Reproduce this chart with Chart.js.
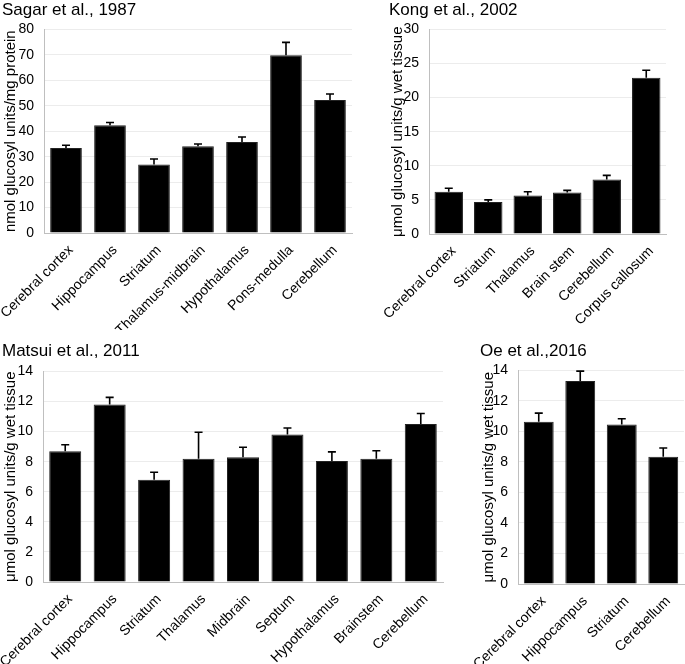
<!DOCTYPE html>
<html>
<head>
<meta charset="utf-8">
<script src="https://cdn.jsdelivr.net/npm/chart.js@4.4.1/dist/chart.umd.min.js"></script>
<style>
  body { margin: 0; background: #fff; width: 685px; height: 664px; position: relative; overflow: hidden; }
  .panel { position: absolute; }
</style>
</head>
<body>
<div class="panel" style="left:0px;top:0px;width:360px;height:330px"><canvas id="sagar"></canvas></div>
<div class="panel" style="left:381px;top:0px;width:304px;height:330px"><canvas id="kong"></canvas></div>
<div class="panel" style="left:0px;top:330px;width:470px;height:334px"><canvas id="matsui"></canvas></div>
<div class="panel" style="left:472px;top:330px;width:213px;height:334px"><canvas id="oe"></canvas></div>
<script>
// Sagar et al., 1987
const sagarLabels = ['Cerebral cortex', 'Hippocampus', 'Striatum', 'Thalamus-midbrain', 'Hypothalamus', 'Pons-medulla', 'Cerebellum'];
const sagarValues = [33.4, 42.3, 26.9, 34.1, 35.8, 69.8, 52.3];
const sagarErrors = [1.1, 1.1, 2.2, 0.9, 1.9, 5.1, 2.3];
const sagarTicks = [0, 10, 20, 30, 40, 50, 60, 70, 80];

// Kong et al., 2002
const kongLabels = ['Cerebral cortex', 'Striatum', 'Thalamus', 'Brain stem', 'Cerebellum', 'Corpus callosum'];
const kongValues = [6.2, 4.7, 5.65, 6.1, 8.0, 22.9];
const kongErrors = [0.5, 0.3, 0.55, 0.3, 0.6, 1.1];
const kongTicks = [0, 5, 10, 15, 20, 25, 30];

// Matsui et al., 2011
const matsuiLabels = ['Cerebral cortex', 'Hippocampus', 'Striatum', 'Thalamus', 'Midbrain', 'Septum', 'Hypothalamus', 'Brainstem', 'Cerebellum'];
const matsuiValues = [8.7, 11.8, 6.8, 8.2, 8.3, 9.8, 8.05, 8.2, 10.5];
const matsuiErrors = [0.42, 0.47, 0.5, 1.75, 0.66, 0.44, 0.6, 0.53, 0.7];
const matsuiTicks = [0, 2, 4, 6, 8, 10, 12, 14];

// Oe et al., 2016
const oeLabels = ['Cerebral cortex', 'Hippocampus', 'Striatum', 'Cerebellum'];
const oeValues = [10.63, 13.3, 10.46, 8.34];
const oeErrors = [0.57, 0.65, 0.37, 0.57];
const oeTicks = [0, 2, 4, 6, 8, 10, 12, 14];

const FONT = "'Liberation Sans', Arial, sans-serif";

// upward error bars with a cap
const errorBars = {
  id: 'errorBars',
  afterDatasetsDraw(chart, args, opts) {
    const errs = opts.errors || [];
    const meta = chart.getDatasetMeta(0);
    const y = chart.scales.y;
    const ctx = chart.ctx;
    ctx.save();
    ctx.strokeStyle = '#000';
    ctx.lineWidth = 1.6;
    meta.data.forEach((bar, i) => {
      const v = chart.data.datasets[0].data[i];
      const yb = y.getPixelForValue(v);
      const yt = y.getPixelForValue(v + errs[i]);
      ctx.beginPath();
      ctx.moveTo(bar.x, yb);
      ctx.lineTo(bar.x, yt);
      ctx.moveTo(bar.x - 4, yt);
      ctx.lineTo(bar.x + 4, yt);
      ctx.stroke();
    });
    ctx.restore();
  }
};

function renderPanel(id, title, labels, values, errors, ticks, yTitle, lay) {
  const ctx = document.getElementById(id);
  return new Chart(ctx, {
    type: 'bar',
    data: {
      labels: labels,
      datasets: [{
        data: values,
        backgroundColor: '#000',
        borderColor: '#222',
        borderWidth: 1,
        barPercentage: 0.72,
        categoryPercentage: 1
      }]
    },
    options: {
      responsive: true,
      maintainAspectRatio: false,
      animation: false,
      layout: { padding: { left: lay.padLeft, right: lay.padRight, top: 0, bottom: 0 } },
      plugins: {
        legend: { display: false },
        tooltip: { enabled: false },
        title: {
          display: true,
          text: title,
          align: 'start',
          color: '#000',
          font: { family: FONT, size: 17, weight: 'normal', lineHeight: 1.2 },
          padding: { top: lay.titleTop, bottom: lay.titleBottom }
        },
        errorBars: { errors: errors }
      },
      scales: {
        x: {
          grid: { display: false },
          border: { display: true, color: '#bfbfbf', width: 1 },
          ticks: {
            color: '#000',
            font: { family: FONT, size: 14 },
            minRotation: 45,
            maxRotation: 45,
            autoSkip: false,
            labelOffset: 5,
            padding: 1
          },
          afterFit(scale) {
            scale.height = lay.xHeight;
            scale.paddingLeft = 0;
            scale.paddingRight = 0;
          }
        },
        y: {
          min: ticks[0],
          max: ticks[ticks.length - 1],
          afterBuildTicks(scale) { scale.ticks = ticks.map(v => ({ value: v })); },
          grid: { color: '#ececec', lineWidth: 1, drawTicks: false },
          border: { display: true, color: '#bfbfbf', width: 1 },
          ticks: { color: '#000', font: { family: FONT, size: 14 }, padding: 10 },
          title: {
            display: true,
            text: yTitle,
            color: '#000',
            font: { family: FONT, size: 15 },
            padding: { top: 0, bottom: 0 }
          },
          afterFit(scale) {
            scale.width = lay.yWidth;
            scale.paddingTop = 0;
            scale.paddingBottom = 0;
          }
        }
      }
    },
    plugins: [errorBars]
  });
}

renderPanel('sagar', 'Sagar et al., 1987', sagarLabels, sagarValues, sagarErrors, sagarTicks,
  'nmol glucosyl units/mg protein',
  { padLeft: 2, padRight: 8, yWidth: 42, xHeight: 97, titleTop: 0, titleBottom: 9 });

renderPanel('kong', 'Kong et al., 2002', kongLabels, kongValues, kongErrors, kongTicks,
  'μmol glucosyl units/g wet tissue',
  { padLeft: 8, padRight: 19, yWidth: 40, xHeight: 96, titleTop: 0, titleBottom: 9 });

renderPanel('matsui', 'Matsui et al., 2011', matsuiLabels, matsuiValues, matsuiErrors, matsuiTicks,
  'μmol glucosyl units/g wet tissue',
  { padLeft: 2, padRight: 27, yWidth: 41, xHeight: 82, titleTop: 11, titleBottom: 10 });

renderPanel('oe', 'Oe et al.,2016', oeLabels, oeValues, oeErrors, oeTicks,
  'μmol glucosyl units/g wet tissue',
  { padLeft: 8, padRight: 1, yWidth: 38, xHeight: 80, titleTop: 11, titleBottom: 9 });
</script>
</body>
</html>
